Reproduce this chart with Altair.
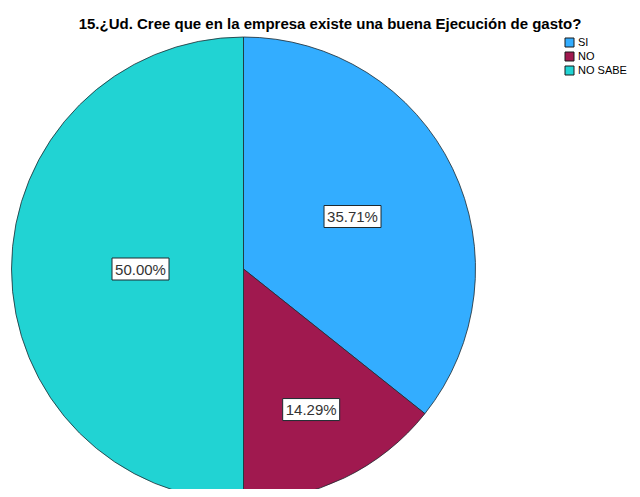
import altair as alt
import pandas as pd

categories = ["SI", "NO", "NO SABE"]
counts = [5, 2, 7]
colors = ["#33adff", "#a0194f", "#21d3d3"]
title_text = "15.¿Ud. Cree que en la empresa existe una buena Ejecución de gasto?"

# layout constants (pixels)
CX, CY, R = 235.5, 261, 232
label_r = [121, 156, 103]

df = pd.DataFrame({
    "category": categories,
    "value": counts,
    "order": list(range(1, len(categories) + 1)),
    "lr": label_r,
})

base = alt.Chart(df)

pie = base.mark_arc(radius=R, stroke="#1e2a30", strokeWidth=0.8).encode(
    theta=alt.Theta("value:Q", stack=True),
    order=alt.Order("order:Q"),
    color=alt.Color(
        "category:N",
        scale=alt.Scale(domain=categories, range=colors),
        sort=categories,
        legend=alt.Legend(
            title=None, orient="none", legendX=556, legendY=29,
            symbolType="square", symbolSize=81, symbolStrokeColor="#1a1a1a",
            symbolStrokeWidth=1, symbolOpacity=1, labelFontSize=11,
            labelFont="Liberation Sans", labelColor="#000000", labelOffset=3,
            rowPadding=1, padding=0,
        ),
    ),
    x=alt.value(CX),
    y=alt.value(CY),
)

lab = base.transform_window(
    cum="sum(value)", sort=[alt.SortField("order")]
).transform_joinaggregate(
    total="sum(value)"
).transform_calculate(
    mid="(datum.cum - datum.value/2) / datum.total * 2 * PI",
    pct="format(datum.value / datum.total, '.2%')",
).transform_calculate(
    lx=f"{CX} + datum.lr * sin(datum.mid)",
    ly=f"{CY} - datum.lr * cos(datum.mid)",
).transform_calculate(
    x1="datum.lx - 28.5", x2="datum.lx + 28.5",
    y1="datum.ly - 11", y2="datum.ly + 11",
)

boxes = lab.mark_rect(fill="white", stroke="#1e2a30", strokeWidth=1).encode(
    x=alt.X("x1:Q", scale=None), x2="x2:Q",
    y=alt.Y("y1:Q", scale=None), y2="y2:Q",
)

texts = lab.mark_text(
    font="Liberation Sans", fontSize=15, color="#333333",
    align="center", baseline="middle", dy=0.5,
).encode(
    x=alt.X("lx:Q", scale=None),
    y=alt.Y("ly:Q", scale=None),
    text="pct:N",
)

title = alt.Chart(pd.DataFrame({"t": [title_text]})).mark_text(
    font="Liberation Sans", fontSize=15, fontWeight="bold", color="#000000",
    align="center", baseline="middle",
).encode(x=alt.value(322), y=alt.value(16), text="t:N")

chart = alt.layer(pie, boxes, texts, title).properties(
    width=624, height=481, padding=0,
    autosize=alt.AutoSizeParams(type="none"),
).configure(background="white").configure_view(strokeWidth=0, stroke="transparent")

chart.save("out.html", embed_options={"renderer": "svg", "actions": False})
